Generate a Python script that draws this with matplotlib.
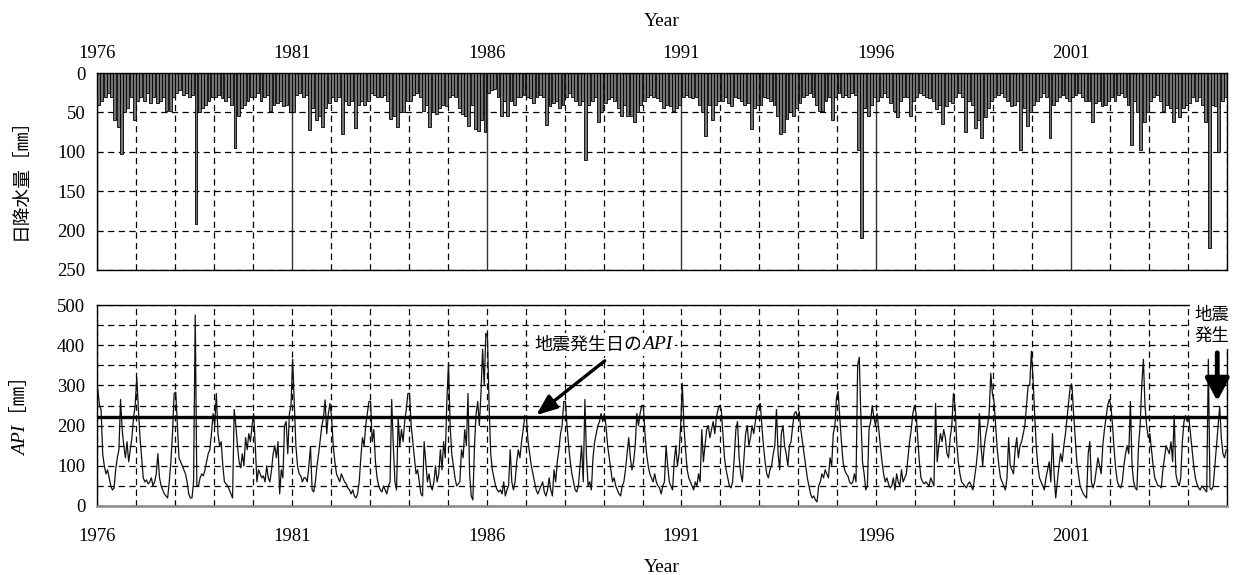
import numpy as np
import matplotlib
matplotlib.use("Agg")
import matplotlib.pyplot as plt
from matplotlib.ticker import MultipleLocator

plt.rcParams['font.family'] = ['Liberation Serif', 'Noto Sans CJK JP']

# ---------------- data ----------------
years = list(range(1976, 2005))
year_ticks = [1976, 1981, 1986, 1991, 1996, 2001]
rain_ticks = [0, 50, 100, 150, 200, 250]
api_ticks = [0, 100, 200, 300, 400, 500]

# monthly maximum daily precipitation [mm], one row per year (Jan..Dec)
rain_max = [
    [40, 35, 30, 25, 30, 60, 68, 103, 50, 45, 30, 60],
    [35, 30, 35, 25, 38, 30, 38, 35, 30, 48, 48, 30],
    [25, 22, 28, 25, 30, 28, 192, 50, 45, 40, 35, 30],
    [30, 28, 32, 35, 30, 40, 95, 55, 45, 40, 35, 30],
    [30, 25, 35, 30, 28, 48, 40, 38, 35, 42, 40, 50],
    [50, 28, 25, 30, 28, 72, 45, 60, 55, 68, 45, 38],
    [30, 35, 30, 78, 35, 40, 35, 70, 40, 35, 40, 35],
    [25, 28, 30, 30, 28, 35, 58, 55, 68, 50, 50, 35],
    [35, 28, 25, 30, 48, 40, 68, 50, 52, 45, 40, 42],
    [30, 28, 30, 45, 52, 55, 67, 40, 71, 73, 60, 75],
    [25, 22, 20, 30, 55, 35, 54, 35, 40, 30, 30, 28],
    [30, 32, 38, 30, 28, 30, 66, 42, 38, 35, 45, 40],
    [30, 25, 30, 35, 40, 35, 110, 40, 35, 30, 62, 50],
    [38, 33, 30, 35, 45, 54, 40, 54, 55, 62, 50, 40],
    [35, 30, 28, 30, 32, 35, 45, 40, 42, 48, 45, 40],
    [30, 28, 30, 32, 30, 40, 50, 80, 40, 60, 40, 35],
    [35, 30, 38, 42, 30, 32, 35, 40, 38, 71, 45, 40],
    [40, 30, 32, 35, 40, 54, 77, 75, 58, 50, 55, 45],
    [38, 30, 28, 25, 30, 40, 48, 48, 35, 30, 60, 30],
    [25, 30, 28, 30, 25, 28, 98, 210, 45, 54, 40, 30],
    [35, 30, 25, 30, 38, 48, 56, 35, 30, 30, 54, 35],
    [30, 25, 28, 30, 32, 35, 46, 40, 65, 42, 35, 38],
    [30, 25, 30, 75, 35, 40, 70, 60, 82, 56, 45, 35],
    [30, 28, 25, 30, 35, 42, 40, 35, 98, 45, 67, 50],
    [40, 35, 30, 25, 30, 82, 40, 35, 30, 28, 32, 35],
    [30, 28, 25, 30, 35, 35, 62, 38, 35, 42, 40, 35],
    [30, 35, 28, 25, 30, 40, 92, 35, 50, 98, 62, 50],
    [35, 30, 28, 35, 48, 40, 45, 62, 45, 56, 45, 40],
    [38, 30, 35, 30, 40, 62, 222, 40, 42, 100, 35, 30],
]

# API [mm], 24 half-month readings per year
api_values = [
    [290, 250, 240, 130, 100, 80, 90, 70, 50, 40, 45, 90, 120, 140, 265, 190, 150, 120, 160, 110, 140, 170, 220, 250],
    [320, 240, 170, 120, 70, 60, 65, 55, 60, 70, 50, 60, 80, 130, 70, 50, 40, 30, 25, 20, 60, 110, 180, 280],
    [283, 200, 120, 110, 100, 90, 80, 60, 30, 20, 20, 60, 475, 50, 50, 70, 80, 75, 90, 110, 130, 140, 180, 230],
    [200, 280, 180, 150, 160, 100, 60, 55, 50, 40, 30, 20, 240, 200, 150, 110, 95, 130, 100, 170, 140, 180, 160, 200],
    [230, 150, 60, 90, 80, 70, 75, 60, 100, 70, 60, 90, 130, 150, 120, 160, 30, 90, 70, 200, 210, 130, 230, 250],
    [365, 260, 150, 100, 80, 75, 60, 70, 70, 60, 100, 148, 40, 35, 60, 100, 130, 165, 200, 220, 264, 180, 230, 255],
    [220, 150, 110, 80, 70, 60, 80, 70, 60, 55, 45, 40, 30, 40, 25, 20, 30, 60, 120, 170, 150, 200, 230, 260],
    [260, 160, 190, 110, 70, 50, 40, 35, 50, 40, 30, 50, 60, 265, 150, 60, 40, 220, 150, 190, 160, 210, 240, 280],
    [280, 200, 160, 120, 80, 90, 60, 30, 25, 160, 110, 60, 80, 50, 40, 60, 100, 60, 80, 140, 90, 160, 120, 265],
    [355, 200, 130, 100, 70, 50, 55, 60, 140, 120, 190, 150, 280, 80, 25, 15, 150, 230, 260, 200, 280, 390, 300, 430],
    [420, 250, 130, 90, 70, 50, 40, 35, 40, 30, 60, 25, 40, 50, 140, 60, 40, 60, 110, 140, 120, 160, 190, 225],
    [220, 160, 130, 100, 80, 60, 40, 30, 40, 50, 60, 35, 25, 40, 70, 40, 25, 90, 60, 110, 140, 180, 200, 260],
    [260, 200, 150, 110, 80, 60, 40, 35, 50, 100, 150, 60, 265, 120, 50, 60, 40, 120, 160, 180, 200, 210, 230, 210],
    [230, 200, 150, 120, 90, 60, 70, 50, 40, 30, 25, 50, 60, 90, 130, 170, 120, 90, 110, 150, 230, 200, 230, 250],
    [250, 180, 130, 100, 80, 70, 60, 80, 60, 50, 45, 30, 50, 60, 150, 100, 60, 50, 40, 110, 150, 100, 130, 200],
    [305, 200, 140, 90, 70, 60, 50, 40, 60, 50, 80, 60, 190, 110, 150, 190, 200, 170, 190, 210, 180, 220, 240, 250],
    [240, 180, 120, 90, 70, 50, 45, 60, 120, 190, 210, 120, 80, 60, 120, 180, 200, 150, 170, 200, 180, 210, 240, 250],
    [255, 200, 150, 110, 80, 70, 90, 100, 130, 150, 240, 130, 90, 180, 200, 150, 130, 100, 150, 160, 200, 230, 235, 220],
    [235, 190, 160, 130, 100, 70, 50, 30, 20, 25, 15, 10, 50, 60, 80, 70, 90, 80, 70, 120, 100, 180, 200, 270],
    [285, 220, 160, 110, 90, 80, 75, 60, 55, 60, 80, 60, 350, 370, 220, 110, 80, 40, 50, 190, 210, 250, 220, 200],
    [230, 190, 150, 110, 80, 60, 70, 55, 45, 50, 70, 40, 80, 60, 50, 90, 60, 70, 80, 120, 160, 190, 230, 250],
    [230, 170, 110, 70, 60, 55, 60, 55, 50, 70, 60, 50, 255, 110, 150, 180, 160, 190, 170, 130, 120, 170, 200, 280],
    [250, 160, 110, 80, 60, 55, 50, 45, 55, 60, 50, 40, 70, 100, 140, 230, 150, 100, 150, 180, 200, 230, 330, 280],
    [260, 200, 140, 100, 70, 60, 50, 40, 70, 170, 100, 90, 80, 140, 170, 120, 150, 160, 180, 200, 250, 300, 300, 385],
    [320, 230, 150, 100, 70, 60, 50, 40, 70, 90, 110, 60, 180, 80, 20, 60, 100, 130, 110, 150, 180, 220, 260, 300],
    [300, 230, 170, 110, 80, 50, 40, 30, 25, 20, 130, 160, 60, 45, 60, 90, 120, 100, 80, 150, 190, 220, 250, 265],
    [250, 200, 140, 90, 60, 50, 45, 60, 100, 130, 150, 130, 260, 100, 60, 45, 40, 150, 200, 300, 365, 250, 200, 170],
    [180, 140, 100, 70, 60, 50, 50, 45, 90, 120, 150, 140, 130, 160, 110, 225, 80, 60, 50, 70, 160, 210, 225, 210],
    [220, 180, 140, 100, 70, 55, 45, 40, 50, 45, 40, 35, 365, 45, 40, 50, 100, 150, 200, 247, 170, 130, 120, 140],
]

api_quake = 222          # API on the day of the earthquake
quake_time = 2004.75     # time of the earthquake (decimal year)

# ---------------- derived series ----------------
yrs = np.array(years, dtype=float)
rain_x = (yrs[:, None] + (np.arange(12)[None, :] + 0.5) / 12).ravel()
rain_y = np.array(rain_max, dtype=float).ravel()
api_x = (yrs[:, None] + (np.arange(24)[None, :] + 0.5) / 24).ravel()
api_y = np.array(api_values, dtype=float).ravel()

# ---------------- figure ----------------
W, H = 1235, 575
fig = plt.figure(figsize=(W / 100, H / 100), dpi=100)
ax1 = fig.add_axes([97 / W, 1 - 270 / H, 1130 / W, 197 / H])
ax2 = fig.add_axes([97 / W, 1 - 506 / H, 1130 / W, 201 / H])

dash = (0, (5, 3.5))
tick_fs = 13.5
fam_mix = ['Liberation Serif', 'Noto Sans CJK JP']

# ---- top panel : daily precipitation ----
ax1.set_axisbelow(True)
ax1.bar(rain_x, rain_y, width=0.075, color='#737373', edgecolor='black',
        linewidth=0.6, zorder=2)
ax1.set_xlim(1976, 2005)
ax1.set_ylim(250, 0)
ax1.set_xticks(year_ticks)
ax1.xaxis.set_minor_locator(MultipleLocator(1))
ax1.set_yticks(rain_ticks)
ax1.xaxis.tick_top()
ax1.tick_params(which='both', length=0, labelsize=tick_fs)
ax1.tick_params(axis='x', pad=8)
ax1.tick_params(axis='y', pad=8.5)
ax1.grid(which='minor', axis='x', color='black', linestyle=dash, linewidth=0.9)
ax1.grid(which='major', axis='x', color='#333333', linestyle='-', linewidth=1.0)
ax1.grid(which='major', axis='y', color='black', linestyle=dash, linewidth=0.9)
for s in ax1.spines.values():
    s.set_linewidth(1.0)

# ---- bottom panel : API ----
ax2.set_axisbelow(True)
ax2.plot(api_x, api_y, color='#111111', linewidth=0.9, zorder=2)
ax2.axhline(api_quake, color='black', linewidth=2.4, zorder=3)
ax2.set_xlim(1976, 2005)
ax2.set_ylim(0, 500)
ax2.set_xticks(year_ticks)
ax2.xaxis.set_minor_locator(MultipleLocator(1))
ax2.set_yticks(api_ticks)
ax2.yaxis.set_minor_locator(MultipleLocator(50))
ax2.tick_params(which='both', length=0, labelsize=tick_fs)
ax2.tick_params(axis='x', pad=16)
ax2.tick_params(axis='y', pad=8.5)
ax2.grid(which='both', axis='both', color='black', linestyle=dash, linewidth=0.9)
for s in ax2.spines.values():
    s.set_linewidth(1.0)
ax2.spines['bottom'].set_color('#888888')
ax2.spines['bottom'].set_linewidth(1.8)

# annotation: API on the earthquake day
ax2.annotate('', xy=(1987.27, api_quake + 4), xytext=(1989.03, 361),
             arrowprops=dict(arrowstyle='-|>,head_length=0.5,head_width=0.2',
                             color='black', lw=2.4, mutation_scale=25,
                             shrinkA=0, shrinkB=0), zorder=6)
ax2.text(1990.0, 402, '地震発生日の', fontsize=13, ha='right', va='center',
         family=['Noto Sans CJK JP'], zorder=6,
         bbox=dict(facecolor='white', edgecolor='none', pad=1.5))
ax2.text(1990.0, 402, 'API', fontsize=14, ha='left', va='center',
         family=['Liberation Serif'], style='italic', zorder=6,
         bbox=dict(facecolor='white', edgecolor='none', pad=1.5))

# annotation: earthquake occurrence
ax2.text(quake_time - 0.15, 449, '地震\n発生', fontsize=12.5, ha='center', va='center',
         family=['Noto Sans CJK JP'], linespacing=1.15, zorder=7, clip_on=False,
         bbox=dict(facecolor='white', edgecolor='none', pad=3))
ax2.annotate('', xy=(quake_time, 261), xytext=(quake_time, 381),
             arrowprops=dict(arrowstyle='-|>,head_length=0.45,head_width=0.24',
                             color='black', lw=3.5, mutation_scale=30,
                             shrinkA=0, shrinkB=0), zorder=6)

# ---- axis titles ----
fig.text(662 / W, 1 - 22 / H, 'Year', fontsize=14, ha='center', va='center')
fig.text(662 / W, 1 - 567 / H, 'Year', fontsize=14, ha='center', va='center')
fig.text(21 / W, 1 - 174 / H, '日降水量［㎜］', fontsize=13.5, rotation=90,
         ha='center', va='center', family=['Noto Sans CJK JP'])
fig.text(21 / W, 1 - 412 / H, 'API［㎜］', fontsize=14, rotation=90, style='italic',
         ha='center', va='center', family=fam_mix)

fig.savefig('out.png', dpi=100)
